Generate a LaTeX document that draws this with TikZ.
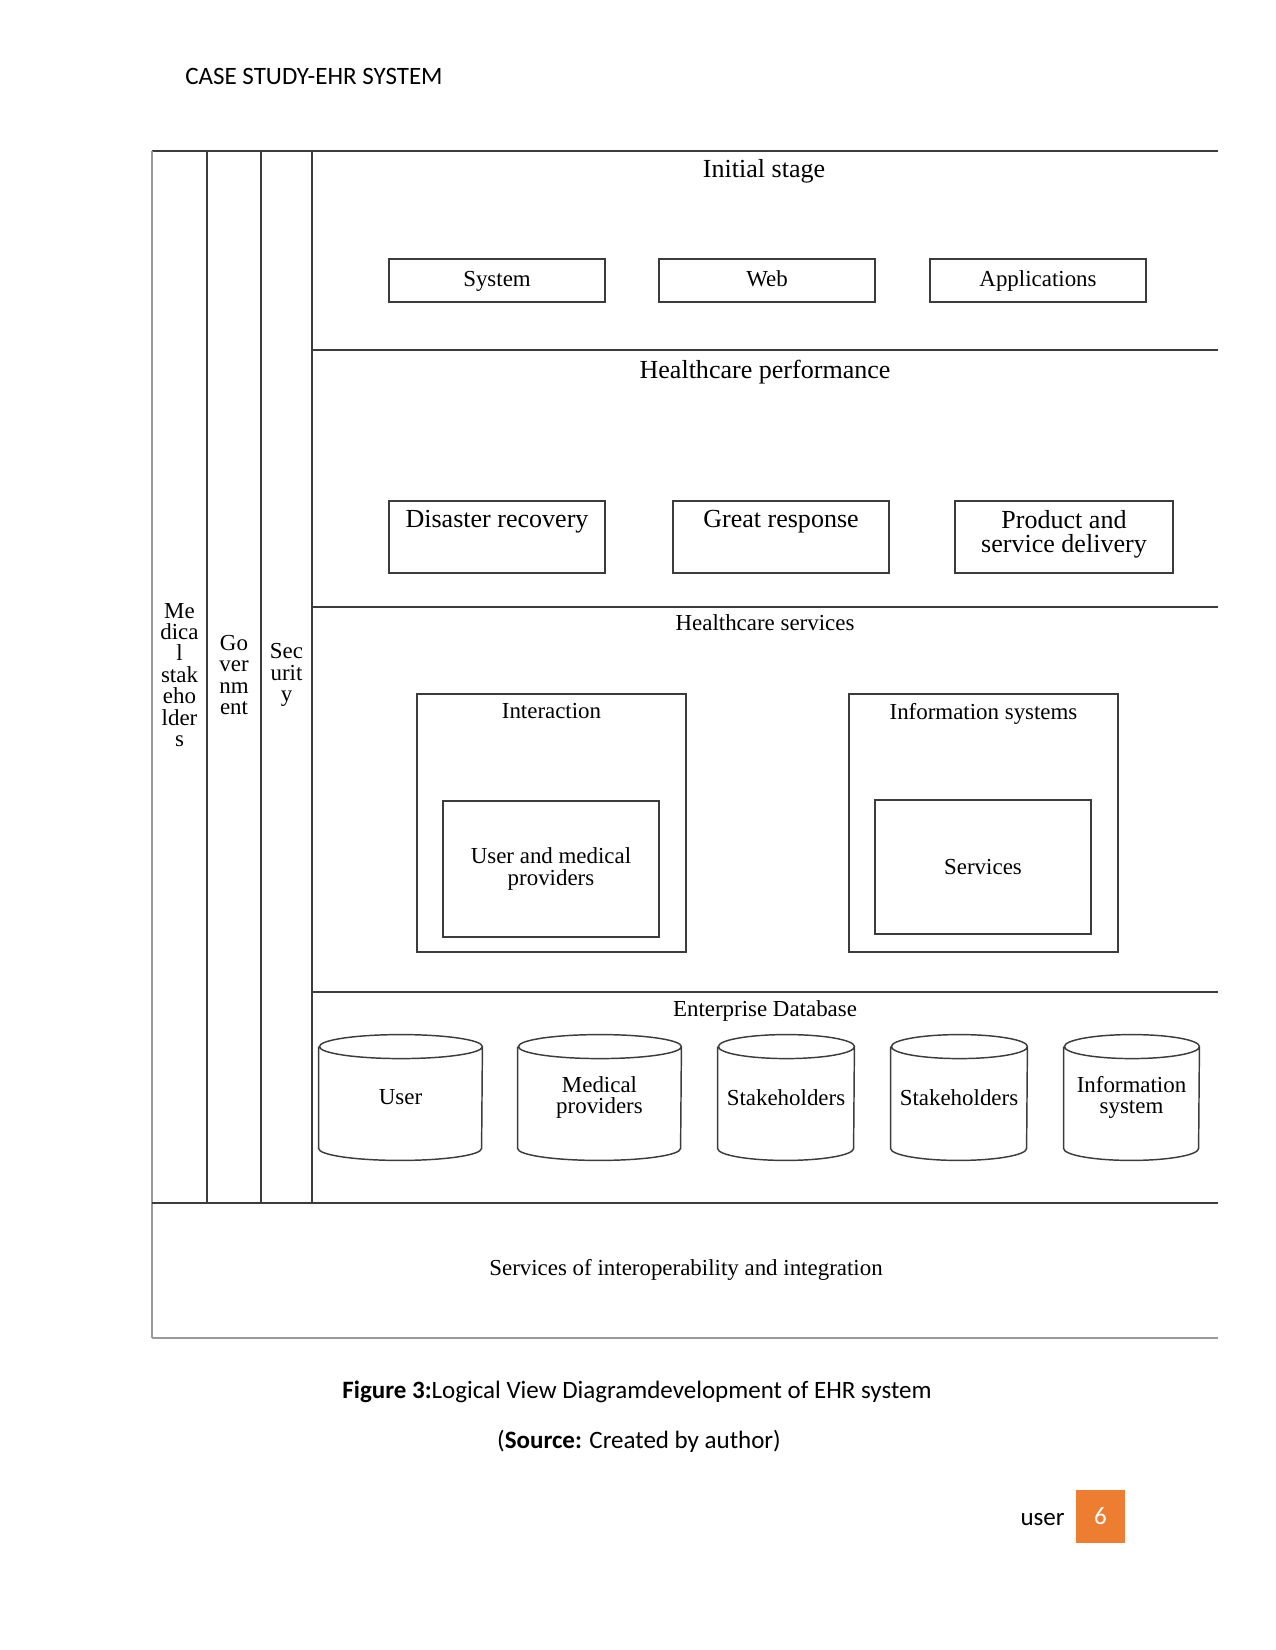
\documentclass[tikz,border=0pt]{standalone}
\usepackage{fontspec}
\setmainfont{Carlito}
\newfontfamily\diagfont{Liberation Serif}
\usetikzlibrary{positioning}
\definecolor{frameline}{HTML}{3C3C3C}
\definecolor{paleline}{HTML}{9A9A9A}
\definecolor{pageorange}{HTML}{ED7D31}

\begin{document}
\begin{tikzpicture}[x=0.48pt, y=-0.48pt,
  box/.style={draw=frameline, line width=0.7pt, inner sep=0pt},
  boxtext/.style={inner sep=0pt, align=center, font=\diagfont\fontsize{11}{11}\selectfont},
  onelabel/.style={boxtext, text height=1.6ex, text depth=0.4ex},
  bigtext/.style={inner sep=0pt, align=center, font=\diagfont\fontsize{12.5}{11.5}\selectfont},
  sidetext/.style={inner sep=0pt, align=center, font=\diagfont\fontsize{11}{10.3}\selectfont},
  dbcyl/.style={inner sep=0pt, minimum height=125*0.48pt, align=center,
    font=\diagfont\fontsize{11}{10}\selectfont},
  pagetext/.style={font=\fontsize{12}{14}\selectfont}]
  \useasboundingbox (0,0) rectangle (1275,1650);

  \node[anchor=west, pagetext] (head) at (178,76) {CASE STUDY-EHR SYSTEM};

  % frame
  \draw[frameline, line width=0.7pt] (152,151) -- (1218,151);
  \draw[paleline, line width=0.7pt] (152,151) -- (152,1338);
  \draw[frameline, line width=0.7pt] (207,151) -- (207,1203);
  \draw[frameline, line width=0.7pt] (261,151) -- (261,1203);
  \draw[frameline, line width=0.7pt] (312,151) -- (312,1203);
  \draw[frameline, line width=0.7pt] (312,350) -- (1218,350);
  \draw[frameline, line width=0.7pt] (312,607) -- (1218,607);
  \draw[frameline, line width=0.7pt] (312,992) -- (1218,992);
  \draw[frameline, line width=0.7pt] (152,1203) -- (1218,1203);
  \draw[paleline, line width=0.7pt] (152,1338) -- (1218,1338);

  \node[sidetext] (medstake) at (179.5,675) {Me\\dica\\l\\stak\\eho\\lder\\s};
  \node[sidetext] (govt) at (234,675) {Go\\ver\\nm\\ent};
  \node[sidetext] (secur) at (286.5,675) {Sec\\urit\\y};

  % Initial stage
  \node[bigtext] (initial) at (764,171) {Initial stage};
  \node[box, minimum width=216*0.48pt, minimum height=43*0.48pt] (sys) at (497,280.5) {};
  \node[onelabel] at (sys.center) {System};
  \node[box, minimum width=216*0.48pt, minimum height=43*0.48pt] (web) at (767,280.5) {};
  \node[onelabel] at (web.center) {Web};
  \node[box, minimum width=216*0.48pt, minimum height=43*0.48pt] (apps) at (1038,280.5) {};
  \node[onelabel] at (apps.center) {Applications};

  % Healthcare performance
  \node[bigtext] (perf) at (765,372) {Healthcare performance};
  \node[box, minimum width=216*0.48pt, minimum height=72*0.48pt] (disrec) at (497,537) {};
  \node[bigtext, anchor=north] at ([yshift=-10*0.48pt]disrec.north) {Disaster recovery};
  \node[box, minimum width=216*0.48pt, minimum height=72*0.48pt] (resp) at (781,537) {};
  \node[bigtext, anchor=north] at ([yshift=-10*0.48pt]resp.north) {Great response};
  \node[box, minimum width=218*0.48pt, minimum height=72*0.48pt] (deliv) at (1064,537) {};
  \node[bigtext, anchor=north] at ([yshift=-10*0.48pt]deliv.north) {Product and\\service delivery};

  % Healthcare services
  \node[boxtext] (services) at (765,623) {Healthcare services};
  \node[box, minimum width=269*0.48pt, minimum height=258*0.48pt] (interact) at (551.5,823) {};
  \node[boxtext, anchor=north] at ([yshift=-10*0.48pt]interact.north) {Interaction};
  \node[box, minimum width=216*0.48pt, minimum height=136*0.48pt] (usermed) at (551,869) {};
  \node[boxtext] at (usermed.center) {User and medical\\providers};
  \node[box, minimum width=269*0.48pt, minimum height=258*0.48pt] (infosys) at (983.5,823) {};
  \node[boxtext, anchor=north] at ([yshift=-10*0.48pt]infosys.north) {Information systems};
  \node[box, minimum width=216*0.48pt, minimum height=134*0.48pt] (servs) at (983,867) {};
  \node[boxtext] at (servs.center) {Services};

  % Enterprise Database
  \node[boxtext] (entdb) at (765,1011) {Enterprise Database};
  \node[dbcyl, minimum width=163*0.48pt] (dbuser) at (400.5,1097.5) {User};
  \node[dbcyl, minimum width=163*0.48pt] (dbmed) at (599.5,1097.5) {Medical\\providers};
  \node[dbcyl, minimum width=136*0.48pt] (dbstakeA) at (786,1097.5) {Stakeholders};
  \node[dbcyl, minimum width=136*0.48pt] (dbstakeB) at (959,1097.5) {Stakeholders};
  \node[dbcyl, minimum width=135*0.48pt] (dbinfo) at (1131.5,1097.5) {Information\\system};
  \foreach \c/\w in {dbuser/163, dbmed/163, dbstakeA/136, dbstakeB/136, dbinfo/135}
    \draw[frameline, line width=0.7pt] ([yshift=-5.76pt]\c.north west)
      -- ([yshift=5.76pt]\c.south west)
      arc[start angle=180, end angle=360, x radius=\w*0.24pt, y radius=5.76pt]
      -- ([yshift=-5.76pt]\c.north east)
      arc[start angle=0, end angle=360, x radius=\w*0.24pt, y radius=5.76pt];

  \node[boxtext] (interop) at (686,1270) {Services of interoperability and integration};

  % caption and footer
  \node[pagetext] (caption) at (637,1392) {\textbf{Figure 3:}Logical View Diagramdevelopment of EHR system};
  \node[pagetext] (source) at (639,1441) {(\textbf{Source:} Created by author)};
  \node[anchor=east, pagetext] (user) at (1072,1519) {user};
  \node[fill=pageorange, minimum width=49*0.48pt, minimum height=53*0.48pt, text=white,
    pagetext] (pagenum) at (1100.5,1516.5) {6};
\end{tikzpicture}
\end{document}
